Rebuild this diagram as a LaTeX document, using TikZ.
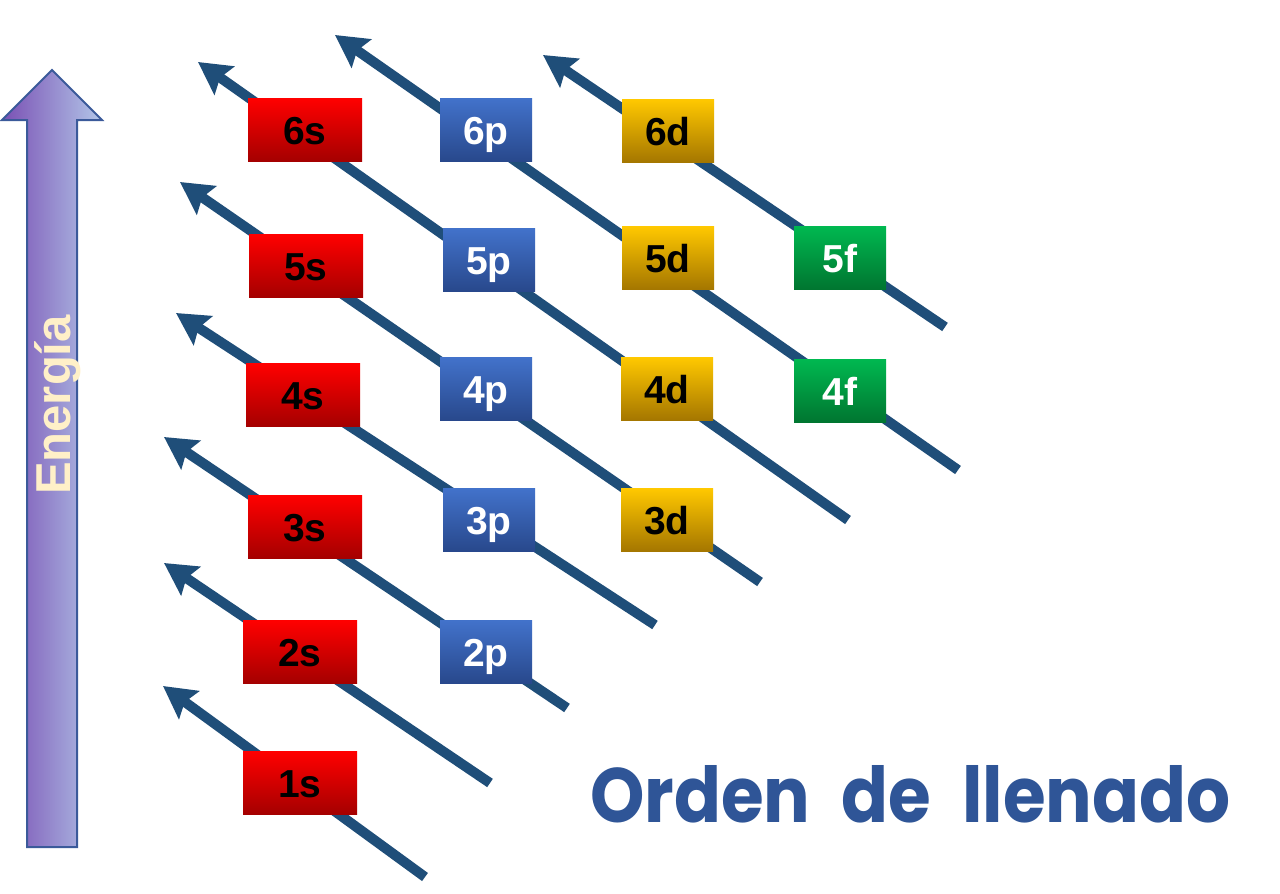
\documentclass[tikz,border=0pt]{standalone}
\usepackage{fontspec}
\usepackage{graphicx}
\setmainfont{Liberation Sans}
\newfontfamily\titlefont{Poppins}
\usetikzlibrary{arrows.meta}
\definecolor{flowblue}{HTML}{1F4E79}
\definecolor{titleblue}{HTML}{2F5597}
\definecolor{sTop}{HTML}{FF0000}
\definecolor{sBot}{HTML}{A40000}
\definecolor{pTop}{HTML}{4272CA}
\definecolor{pBot}{HTML}{28488C}
\definecolor{dTop}{HTML}{FFC800}
\definecolor{dBot}{HTML}{A47600}
\definecolor{fTop}{HTML}{00B850}
\definecolor{fBot}{HTML}{007530}
\definecolor{enLeft}{HTML}{7A50B4}
\definecolor{enRight}{HTML}{B2C6E8}
\definecolor{enEdge}{HTML}{3B5A9A}
\definecolor{cream}{HTML}{FFF0C8}
\begin{document}
\begin{tikzpicture}[x=1pt,y=-1pt,
  orb/.style={minimum height=63pt, inner sep=0pt, text height=28pt, text depth=0pt,
    font=\fontsize{39}{39}\selectfont\bfseries},
  sbox/.style={orb, minimum width=114pt, top color=sTop, bottom color=sBot, text=black},
  pbox/.style={orb, minimum width=92pt, top color=pTop, bottom color=pBot, text=white},
  dbox/.style={orb, minimum width=92pt, top color=dTop, bottom color=dBot, text=black},
  fbox/.style={orb, minimum width=92pt, top color=fTop, bottom color=fBot, text=white},
  flow/.style={line width=10pt, draw=flowblue, -{Stealth[length=32pt,width=34pt,inset=5pt]}}]
\useasboundingbox (0,0) rectangle (1280,894);
\fill[white] (0,0) rectangle (1280,894);

% energy arrow
\path[left color=enLeft, right color=enRight, draw=enEdge, line width=2pt, line join=miter]
  (27,847) -- (27,120) -- (2,120) -- (52,70) -- (102,120) -- (77,120) -- (77,847) -- cycle;
\node[rotate=90, anchor=base, inner sep=0pt, text=cream,
  font=\fontsize{49}{49}\selectfont\bfseries] (energia) at (70,405) {Energía};

% flow arrows
\coordinate (t1) at (425,877); \coordinate (h1) at (163,686);
\coordinate (t2) at (490,783); \coordinate (h2) at (164,563);
\coordinate (t3) at (567,708); \coordinate (h3) at (164,437);
\coordinate (t4) at (655,625); \coordinate (h4) at (176,313);
\coordinate (t5) at (760,582); \coordinate (h5) at (180,182);
\coordinate (t6) at (848,520); \coordinate (h6) at (198,62);
\coordinate (t7) at (958,470); \coordinate (h7) at (335,35);
\coordinate (t8) at (945,327); \coordinate (h8) at (543,55);
\foreach \i in {1,...,8} { \draw[flow] (t\i) -- (h\i); }

% orbitals
\node[sbox] (s1) at (300,783) {1s};
\node[sbox] (s2) at (300,652) {2s};
\node[sbox] (s3) at (305,527) {3s};
\node[sbox] (s4) at (303,395) {4s};
\node[sbox] (s5) at (306,266) {5s};
\node[sbox] (s6) at (305,130) {6s};
\node[pbox] (p2) at (486,652) {2p};
\node[pbox] (p3) at (489,520) {3p};
\node[pbox] (p4) at (486,389) {4p};
\node[pbox] (p5) at (489,260) {5p};
\node[pbox] (p6) at (486,130) {6p};
\node[dbox] (d3) at (667,520) {3d};
\node[dbox] (d4) at (667,389) {4d};
\node[dbox] (d5) at (668,258) {5d};
\node[dbox] (d6) at (668,131) {6d};
\node[fbox] (f4) at (840,391) {4f};
\node[fbox] (f5) at (840,258) {5f};

% title
\node[anchor=base west, inner sep=0pt, text=titleblue] (title) at (590,822)
  {\resizebox{640pt}{57pt}{\titlefont\bfseries Orden\hspace{0.45em}de\hspace{0.45em}llenado}};
\end{tikzpicture}
\end{document}
